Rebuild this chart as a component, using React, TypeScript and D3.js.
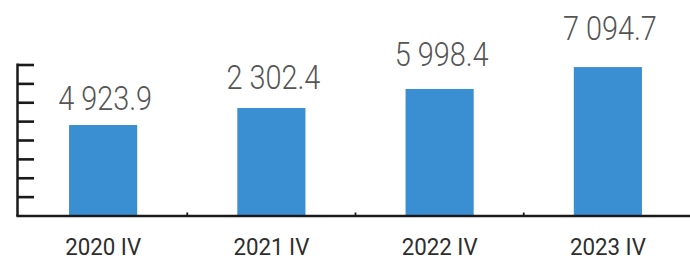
import React from "react";
import * as d3 from "d3";

const categories = ["2020 IV", "2021 IV", "2022 IV", "2023 IV"];
const valueLabels = ["4 923.9", "2 302.4", "5 998.4", "7 094.7"];
// bar heights as drawn in the picture, in axis tick units (axis has 8 unlabeled ticks)
const barLevels = [4.82, 5.72, 6.73, 7.89];
const yTicks = [1, 2, 3, 4, 5, 6, 7, 8];

const W = 690;
const H = 260;
const baseY = 216;
const topY = 65;
const axisX = 17.5;

export default function App() {
  const x = d3
    .scaleBand<string>()
    .domain(categories)
    .range([19, 692])
    .paddingInner(0.595)
    .paddingOuter(0.2975);
  const y = d3.scaleLinear().domain([0, 8]).range([baseY, topY]);
  const bw = x.bandwidth();
  const gap = x.step() - bw;

  return (
    <svg
      width={W}
      height={H}
      style={{ position: "absolute", left: 0, top: 0, display: "block", background: "#fff" }}
    >
      {categories.map((c, i) => (
        <rect
          key={c}
          x={x(c)}
          y={y(barLevels[i])}
          width={bw}
          height={baseY - y(barLevels[i])}
          fill="#3a8fd2"
        />
      ))}
      {/* y axis */}
      <line x1={axisX} x2={axisX} y1={topY - 1.5} y2={baseY} stroke="#1a1a1a" strokeWidth={2.5} />
      {yTicks.map((t) => (
        <line key={t} x1={axisX} x2={34} y1={y(t)} y2={y(t)} stroke="#1a1a1a" strokeWidth={2.6} />
      ))}
      {/* x axis */}
      <line x1={axisX - 1.2} x2={W} y1={baseY} y2={baseY} stroke="#1a1a1a" strokeWidth={2.4} />
      {categories.slice(1).map((c) => (
        <line
          key={"b" + c}
          x1={(x(c) as number) - gap / 2}
          x2={(x(c) as number) - gap / 2}
          y1={baseY}
          y2={baseY - 3.5}
          stroke="#1a1a1a"
          strokeWidth={1.8}
        />
      ))}
      {categories.map((c, i) => (
        <text
          key={"v" + c}
          x={(x(c) as number) + bw / 2 + 2}
          y={y(barLevels[i]) - (15 + 4 * i)}
          textAnchor="middle"
          fontFamily="Roboto"
          fontWeight={300}
          fontSize={34}
          fill="#555"
          textLength={94}
          lengthAdjust="spacingAndGlyphs"
        >
          {valueLabels[i]}
        </text>
      ))}
      {categories.map((c) => (
        <text
          key={"c" + c}
          x={(x(c) as number) + bw / 2}
          y={255}
          textAnchor="middle"
          fontFamily="Roboto"
          fontSize={24}
          fill="#2e2e2e"
          textLength={76}
          lengthAdjust="spacingAndGlyphs"
        >
          {c}
        </text>
      ))}
    </svg>
  );
}
